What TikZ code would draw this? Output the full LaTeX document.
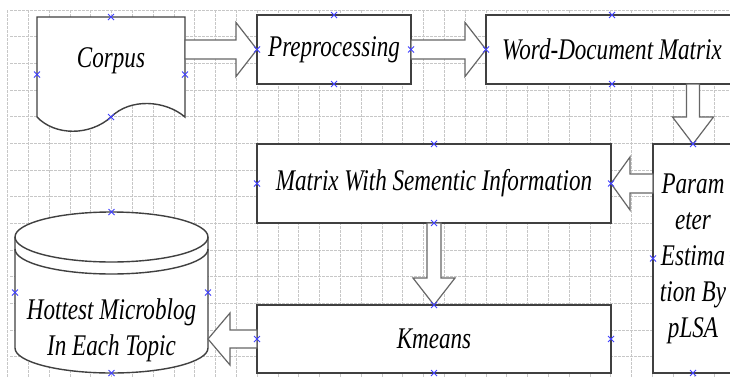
\documentclass[tikz,border=0pt]{standalone}
\usepackage{fontspec}
\newfontfamily\chartfont[FakeStretch=0.77]{Liberation Serif}
\usetikzlibrary{calc}

\tikzset{
	gridline/.style={draw=black!22, line width=0.6pt, dash pattern=on 2.5pt off 1.5pt},
	boxline/.style={draw=black!75, line width=1.4pt},
	hold/.style={inner sep=0pt, outer sep=0pt},
	box/.style={hold, boxline, fill=white},
	lbl/.style={font=\chartfont\itshape\fontsize{30}{36}\selectfont, align=center},
	fatline/.style={draw=black!60, line width=1.2pt, fill=white, line join=miter},
	xmark/.style={draw=blue!75, line width=0.8pt}
}

% block arrow: from, to, head length, half shaft, half head
\newcommand\fatarrow[5]{%
	\coordinate (fa-s) at (#1);
	\coordinate (fa-t) at (#2);
	\coordinate (fa-b) at ($(fa-t)!#3!(fa-s)$);
	\draw[fatline] ($(fa-s)!#4!90:(fa-t)$) -- ($(fa-b)!#4!-90:(fa-s)$)
	-- ($(fa-b)!#5!-90:(fa-s)$) -- (fa-t) -- ($(fa-b)!#5!90:(fa-s)$)
	-- ($(fa-b)!#4!90:(fa-s)$) -- ($(fa-s)!#4!-90:(fa-t)$) -- cycle;
}

\begin{document}
\begin{tikzpicture}[x=1pt, y=-1pt]
	\clip (0,0) rectangle (730,378);
	\fill[white] (0,0) rectangle (730,378);
	
	% background grid
	\foreach \i in {0,...,34}
	\draw[gridline] (7.5+20.8*\i,10) -- (7.5+20.8*\i,378);
	\foreach \j in {0,...,14}
	\draw[gridline] (10,10+26.67*\j) -- (730,10+26.67*\j);
	
	% corpus (document shape)
	\node[hold, minimum width=148pt, minimum height=115pt] (corpus) at (111,74.5) {};
	\coordinate (wave) at (111,117);
	\draw[boxline, fill=white] (corpus.north west) -- (corpus.north east) -- (185,117)
	.. controls (165,100) and (130,98) .. (wave)
	.. controls (90,136) and (55,136) .. (37,117) -- cycle;
	\node[lbl] (corpustext) at (111,61) {Corpus};
	
	% boxes
	\node[box, lbl, minimum width=154pt, minimum height=69pt] (prep) at (334,49.5) {Preprocessing};
	\node[box, lbl, minimum width=252pt, minimum height=69pt] (wdm) at (612,49.5) {Word-Document Matrix};
	\node[box, lbl, minimum width=80pt, minimum height=229pt] (param) at (693,258.5) {Param\\eter\\Estima\\tion By\\pLSA};
	\node[box, lbl, minimum width=354pt, minimum height=79pt] (matrix) at (434,183.5) {Matrix With Sementic Information};
	\node[box, lbl, minimum width=354pt, minimum height=68pt] (kmeans) at (434,339) {Kmeans};
	
	% hottest microblog (cylinder)
	\node[hold, minimum width=193pt, minimum height=161pt] (hottest) at (111.5,292.5) {};
	\fill[white] (15,237) rectangle (208,348);
	\fill[white] (111.5,348) ellipse[x radius=96.5, y radius=25];
	\draw[boxline, fill=white] (111.5,237) ellipse[x radius=96.5, y radius=25];
	\draw[boxline] (15,237) -- (15,348) arc[start angle=180, end angle=0, x radius=96.5, y radius=25] -- (208,237);
	\draw[boxline] (15,249) arc[start angle=180, end angle=0, x radius=96.5, y radius=25];
	\node[lbl] (hottesttext) at (111.5,330) {Hottest Microblog\\In Each Topic};
	
	% block arrows
	\fatarrow{corpus.east |- prep.west}{prep.west}{21pt}{9.5pt}{27pt}
	\fatarrow{prep.east}{wdm.west}{21pt}{9.5pt}{27pt}
	\fatarrow{wdm.south -| param.north}{param.north}{27pt}{6.5pt}{20.5pt}
	\fatarrow{param.west |- matrix.east}{matrix.east}{19pt}{9.5pt}{26.5pt}
	\fatarrow{matrix.south}{kmeans.north}{27pt}{7pt}{21pt}
	\fatarrow{kmeans.west}{kmeans.west -| hottest.east}{22pt}{9pt}{26pt}
	
	% connection marks
	\foreach \p in {corpus.north, corpus.west, corpus.east, wave,
		prep.north, prep.south, prep.west, prep.east,
		wdm.north, wdm.south, wdm.west,
		param.north, param.south, param.west, param.east,
		matrix.north, matrix.south, matrix.west, matrix.east,
		kmeans.north, kmeans.south, kmeans.west, kmeans.east,
		hottest.north, hottest.south, hottest.west, hottest.east}
	\draw[xmark] (\p) +(-3,-3) -- +(3,3) +(-3,3) -- +(3,-3);
\end{tikzpicture}
\end{document}
